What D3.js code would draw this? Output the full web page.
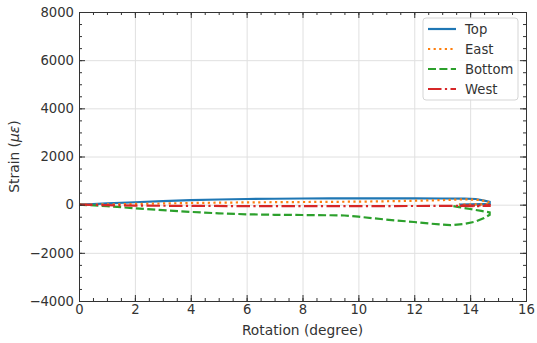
<!DOCTYPE html>
<html>
<head>
<meta charset="utf-8">
<script src="https://cdn.jsdelivr.net/npm/d3@7.9.0/dist/d3.min.js"></script>
<style>
  body { margin: 0; background: #fff; }
  svg { display: block; font-family: "DejaVu Sans", sans-serif; }
</style>
</head>
<body>
<div id="chart"></div>
<script>
// series data (rotation in degrees, strain in microstrain)
const topRot = [0, 0.5, 1, 2, 3, 4, 5, 6, 7, 8, 9, 10, 11, 12, 13, 13.8, 14.2, 14.5, 14.7, 14.7, 14.4, 14.0, 13.6];
const topStrain = [0, 20, 50, 100, 150, 190, 215, 235, 245, 255, 260, 265, 265, 260, 255, 250, 235, 170, 120, 30, 20, 10, 0];

const eastRot = [0, 1, 2, 4, 6, 8, 10, 11.5, 13, 13.8, 14.3, 14.6, 14.7, 14.7, 14.2, 13.6];
const eastStrain = [0, 10, 30, 70, 95, 110, 125, 150, 190, 220, 200, 140, 80, 20, 10, 0];

const bottomRot = [0, 1, 2, 3, 4, 5, 6, 7, 8, 9, 9.5, 10, 11, 12, 12.5, 13, 13.3, 13.8, 14.2, 14.5, 14.7, 14.7, 14.4, 14.0, 13.6, 13.4];
const bottomStrain = [0, -60, -150, -230, -300, -360, -400, -420, -430, -440, -450, -500, -620, -720, -780, -830, -850, -800, -700, -550, -420, -320, -260, -180, -100, -60];

const westRot = [0, 1, 2, 4, 6, 8, 10, 12, 13, 14, 14.5, 14.7, 14.7, 14.2, 13.5];
const westStrain = [0, -20, -40, -50, -60, -60, -60, -55, -50, -40, -30, -20, -50, -60, -50];

const seriesNames = ["Top", "East", "Bottom", "West"];
const xTicks = [0, 2, 4, 6, 8, 10, 12, 14, 16];
const yTicks = [-4000, -2000, 0, 2000, 4000, 6000, 8000];

const width = 537;
const height = 343;
const margin = { top: 12, right: 11, bottom: 42, left: 79 };
const innerW = width - margin.left - margin.right;
const innerH = height - margin.top - margin.bottom;
const fontSize = 13.2;

const svg = d3.select("#chart")
    .append("svg")
    .attr("width", width)
    .attr("height", height);

const g = svg.append("g")
    .attr("transform", `translate(${margin.left},${margin.top})`);

// scales
const x = d3.scaleLinear().domain([0, 16]).range([0, innerW]);
const y = d3.scaleLinear().domain([-4000, 8000]).range([innerH, 0]);

const xMinor = d3.range(0, 16.01, 0.5);
const yMinor = d3.range(-4000, 8001, 500);

// grid
g.append("g")
    .attr("transform", `translate(0,${innerH})`)
    .call(d3.axisBottom(x).tickValues(xTicks).tickSize(-innerH).tickFormat(""))
    .call(s => s.select(".domain").remove())
    .call(s => s.selectAll("line").attr("stroke", "#e0e0e0").attr("stroke-width", 1));
g.append("g")
    .call(d3.axisLeft(y).tickValues(yTicks).tickSize(-innerW).tickFormat(""))
    .call(s => s.select(".domain").remove())
    .call(s => s.selectAll("line").attr("stroke", "#e0e0e0").attr("stroke-width", 1));

// lines
const series = [
    { name: "Top", rot: topRot, strain: topStrain, color: "#1f77b4", dash: null },
    { name: "East", rot: eastRot, strain: eastStrain, color: "#ff7f0e", dash: "2.2,3.4" },
    { name: "Bottom", rot: bottomRot, strain: bottomStrain, color: "#2ca02c", dash: "8,3.4" },
    { name: "West", rot: westRot, strain: westStrain, color: "#d62728", dash: "13.5,3.4,2.2,3.4" }
];

const line = d3.line()
    .x(d => x(d[0]))
    .y(d => y(d[1]));

series.forEach(s => {
    g.append("path")
        .datum(s.rot.map((r, i) => [r, s.strain[i]]))
        .attr("fill", "none")
        .attr("stroke", s.color)
        .attr("stroke-width", 2.2)
        .attr("stroke-dasharray", s.dash)
        .attr("d", line);
});

// axes with inward ticks
function styleAxis(sel) {
    sel.selectAll("line").attr("stroke", "#333");
    sel.select(".domain").attr("stroke", "#333");
    sel.selectAll("text")
        .attr("font-size", fontSize)
        .attr("font-family", "DejaVu Sans")
        .attr("fill", "#333");
}

const fmt = d => d < 0 ? "\u2212" + Math.abs(d) : String(d);

g.append("g")
    .attr("transform", `translate(0,${innerH})`)
    .call(d3.axisBottom(x).tickValues(xTicks).tickSize(-6).tickSizeOuter(0).tickPadding(4).tickFormat(d => d))
    .call(styleAxis);
g.append("g")
    .attr("transform", `translate(0,${innerH})`)
    .call(d3.axisBottom(x).tickValues(xMinor).tickSize(-3).tickFormat(""))
    .call(styleAxis);
g.append("g")
    .call(d3.axisTop(x).tickValues(xTicks).tickSize(-6).tickSizeOuter(0).tickFormat(""))
    .call(styleAxis);
g.append("g")
    .call(d3.axisTop(x).tickValues(xMinor).tickSize(-3).tickFormat(""))
    .call(styleAxis);

g.append("g")
    .call(d3.axisLeft(y).tickValues(yTicks).tickSize(-6).tickSizeOuter(0).tickPadding(5).tickFormat(fmt))
    .call(styleAxis);
g.append("g")
    .call(d3.axisLeft(y).tickValues(yMinor).tickSize(-3).tickFormat(""))
    .call(styleAxis);
g.append("g")
    .attr("transform", `translate(${innerW},0)`)
    .call(d3.axisRight(y).tickValues(yTicks).tickSize(-6).tickSizeOuter(0).tickFormat(""))
    .call(styleAxis);
g.append("g")
    .attr("transform", `translate(${innerW},0)`)
    .call(d3.axisRight(y).tickValues(yMinor).tickSize(-3).tickFormat(""))
    .call(styleAxis);

// axis labels
svg.append("text")
    .attr("x", margin.left + innerW / 2)
    .attr("y", height - 8)
    .attr("text-anchor", "middle")
    .attr("font-size", 13.8)
    .attr("fill", "#333")
    .text("Rotation (degree)");

const yl = svg.append("text")
    .attr("transform", `translate(19,${margin.top + innerH / 2}) rotate(-90)`)
    .attr("text-anchor", "middle")
    .attr("font-size", 13.8)
    .attr("fill", "#333");
yl.append("tspan").text("Strain (");
yl.append("tspan").attr("font-style", "italic").text("\u03bc\u03b5");
yl.append("tspan").text(")");

// legend
const legend = g.append("g")
    .attr("transform", `translate(${423 - margin.left},${18 - margin.top})`);
legend.append("rect")
    .attr("width", 95)
    .attr("height", 82)
    .attr("rx", 3)
    .attr("fill", "white")
    .attr("fill-opacity", 0.85)
    .attr("stroke", "#d5d5d5");

series.forEach((s, i) => {
    const ly = 11 + i * 20;
    legend.append("line")
        .attr("x1", 5).attr("x2", 33)
        .attr("y1", ly).attr("y2", ly)
        .attr("stroke", s.color)
        .attr("stroke-width", 2.2)
        .attr("stroke-dasharray", s.dash);
    legend.append("text")
        .attr("x", 42)
        .attr("y", ly + 4.8)
        .attr("font-size", fontSize)
        .attr("fill", "#333")
        .text(seriesNames[i]);
});
</script>
</body>
</html>
